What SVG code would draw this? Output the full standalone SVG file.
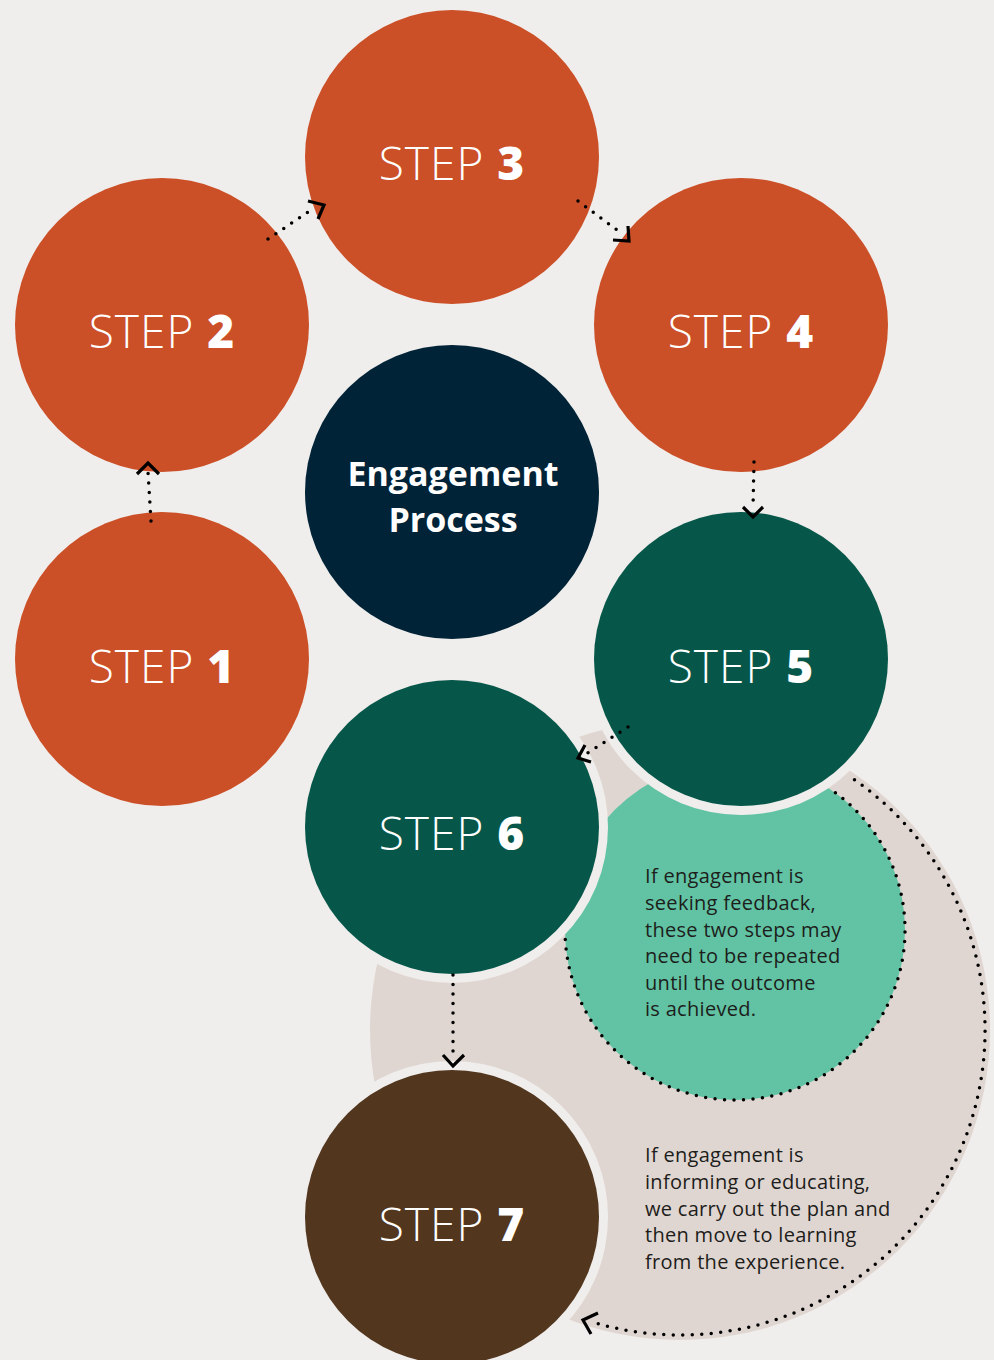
<svg xmlns="http://www.w3.org/2000/svg" width="994" height="1360" viewBox="0 0 994 1360">
<style>
.bg{fill:#f0eeec}
.or{fill:#cb4f27}
.gr{fill:#06574a}
.st{font-family:"Open Sans","Liberation Sans",sans-serif;font-size:46px;fill:#ffffff;text-anchor:middle;font-weight:300;letter-spacing:1px}
.st tspan{font-weight:800}
.ep{font-family:"Open Sans","Liberation Sans",sans-serif;font-size:34px;font-weight:700;fill:#ffffff;text-anchor:middle}
.note{font-family:"Open Sans","Liberation Sans",sans-serif;font-size:20px;letter-spacing:0.3px;fill:#1d1d1b}
.dot{fill:none;stroke:#000;stroke-width:3.5;stroke-linecap:round;stroke-dasharray:0 9.5}
.hd{fill:none;stroke:#000;stroke-width:3.2;stroke-linecap:butt;stroke-linejoin:miter}
</style>
<rect class="bg" x="0" y="0" width="994" height="1360"/>
<g id="loop-area">
<circle cx="680" cy="1030" r="310" fill="#e0d6d1"/>
<circle cx="735" cy="930" r="170" fill="#61c3a4"/>
</g>
<g id="connectors">
<path class="dot" d="M835.4,792.8 A170,170 0 1 1 567.6,900.5"/>
<path class="dot" d="M854.5,779.8 A305,305 0 0 1 594,1322.6"/>
<path class="hd" d="M598,1313 L583,1320 L591,1334"/>
</g>
<g id="rings">
<circle class="bg" cx="741" cy="659" r="156"/>
<circle class="bg" cx="452" cy="827" r="156"/>
<circle class="bg" cx="452" cy="1217" r="156"/>
</g>
<g id="step1"><circle class="or" cx="162" cy="659" r="147"/><text class="st" x="162" y="683">STEP <tspan>1</tspan></text></g>
<g id="step2"><circle class="or" cx="162" cy="325" r="147"/><text class="st" x="162" y="348">STEP <tspan>2</tspan></text></g>
<g id="step3"><circle class="or" cx="452" cy="157" r="147"/><text class="st" x="452" y="180">STEP <tspan>3</tspan></text></g>
<g id="step4"><circle class="or" cx="741" cy="325" r="147"/><text class="st" x="741" y="348">STEP <tspan>4</tspan></text></g>
<g id="engagement"><circle fill="#012337" cx="452" cy="492" r="147"/><text class="ep" x="453" y="486">Engagement</text><text class="ep" x="453" y="532">Process</text></g>
<g id="step5"><circle class="gr" cx="741" cy="659" r="147"/><text class="st" x="741" y="683">STEP <tspan>5</tspan></text></g>
<g id="step6"><circle class="gr" cx="452" cy="827" r="147"/><text class="st" x="452" y="850">STEP <tspan>6</tspan></text></g>
<g id="step7"><circle fill="#52361e" cx="452" cy="1217" r="147"/><text class="st" x="452" y="1241">STEP <tspan>7</tspan></text></g>
<g id="note-feedback"><text class="note"><tspan x="645" y="883">If engagement is</tspan><tspan x="645" y="910">seeking feedback,</tspan><tspan x="645" y="937">these two steps may</tspan><tspan x="645" y="963">need to be repeated</tspan><tspan x="645" y="990">until the outcome</tspan><tspan x="645" y="1016">is achieved.</tspan></text></g>
<g id="note-inform"><text class="note"><tspan x="645" y="1162">If engagement is</tspan><tspan x="645" y="1189">informing or educating,</tspan><tspan x="645" y="1216">we carry out the plan and</tspan><tspan x="645" y="1242">then move to learning</tspan><tspan x="645" y="1269">from the experience.</tspan></text></g>
<g id="arrows">
<path class="dot" d="M268,239 L314,208"/>
<path class="hd" d="M308,201 L324,205 L318,219"/>
<path class="dot" d="M578,201 L621,233"/>
<path class="hd" d="M613,240 L629,241 L628,226"/>
<path class="dot" d="M151,521 L148,472"/>
<path class="hd" d="M137,474 L148,463 L159,474"/>
<path class="dot" d="M754,462 L753,508"/>
<path class="hd" d="M743,507 L753,517 L763,507"/>
<path class="dot" d="M628,727 L586,754"/>
<path class="hd" d="M585,745 L578,758 L591,762"/>
<path class="dot" d="M453,975 L453,1058"/>
<path class="hd" d="M443,1055 L453,1066 L464,1055"/>
</g>
</svg>
